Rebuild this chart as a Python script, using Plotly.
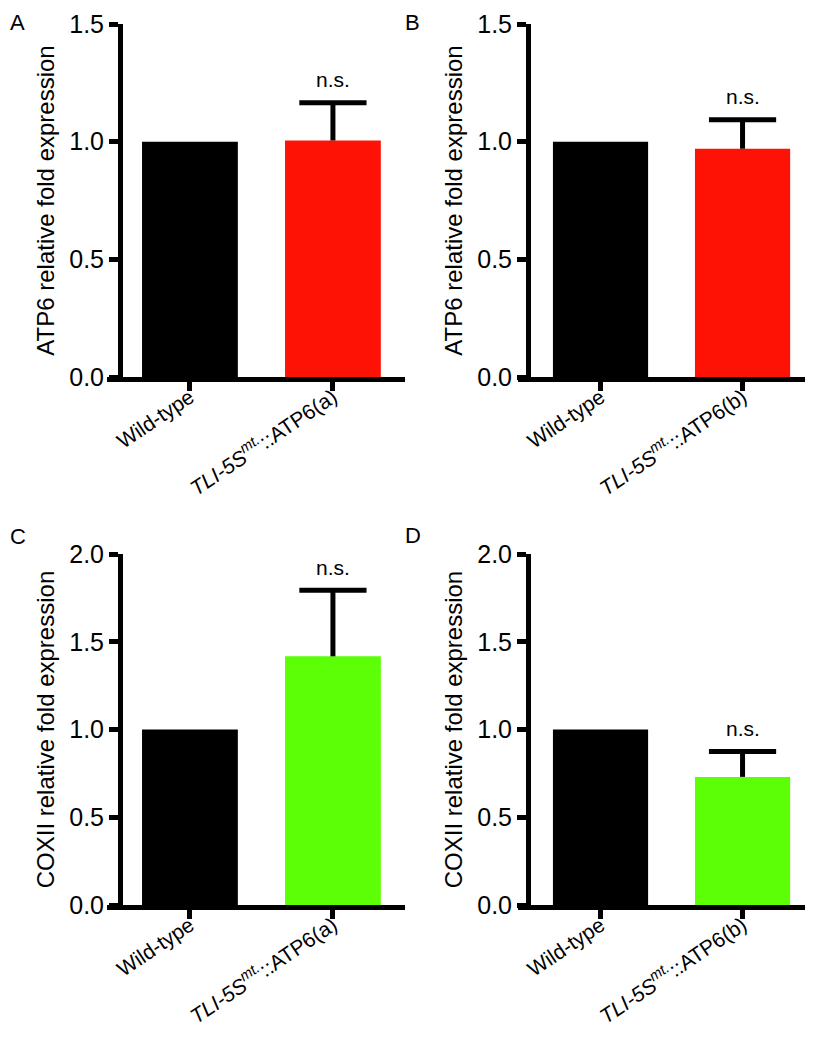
import plotly.graph_objects as go

# ---- data ----
categories_a = ["Wild-type", "<i>TLI-5S<sup>mt.</sup></i>::ATP6(a)"]
categories_b = ["Wild-type", "<i>TLI-5S<sup>mt.</sup></i>::ATP6(b)"]

atp6_a_values = [1.0, 1.005]
atp6_a_errors = [0.0, 0.16]
atp6_b_values = [1.0, 0.97]
atp6_b_errors = [0.0, 0.123]
coxii_a_values = [1.0, 1.417]
coxii_a_errors = [0.0, 0.377]
coxii_b_values = [1.0, 0.73]
coxii_b_errors = [0.0, 0.144]

sig_labels = ["n.s.", "n.s.", "n.s.", "n.s."]
panel_letters = ["A", "B", "C", "D"]
ytitles = ["ATP6 relative fold expression", "ATP6 relative fold expression",
           "COXII relative fold expression", "COXII relative fold expression"]
ymax = [1.5, 1.5, 2.0, 2.0]

RED = "#ff1206"
GREEN = "#5cff06"
BLACK = "#000000"
FONT = "Liberation Sans, Arial, Helvetica, sans-serif"

# page body has an 8px margin; figure sized to fit the rest of the window
OFF = 8
W, H = 813 - OFF, 1050 - OFF

def px(x):
    return (x - OFF) / W

def py(y):
    return 1 - (y - OFF) / H

panels = [
    dict(cats=categories_a, vals=atp6_a_values, errs=atp6_a_errors, color=RED,
         xdom=[px(107), px(405)], ypos=px(120), ydom=[py(377), py(24)],
         xr=[-0.58, 1.504], letter_xy=(8, 8), letter_anchor="top"),
    dict(cats=categories_b, vals=atp6_b_values, errs=atp6_b_errors, color=RED,
         xdom=[px(518), 1.0], ypos=px(528), ydom=[py(377), py(24)],
         xr=[-0.581, 1.496], letter_xy=(403, 8), letter_anchor="top"),
    dict(cats=categories_a, vals=coxii_a_values, errs=coxii_a_errors, color=GREEN,
         xdom=[px(107), px(405)], ypos=px(120), ydom=[py(905), py(554)],
         xr=[-0.58, 1.504], letter_xy=(8, 536), letter_anchor="middle"),
    dict(cats=categories_b, vals=coxii_b_values, errs=coxii_b_errors, color=GREEN,
         xdom=[px(518), 1.0], ypos=px(528), ydom=[py(905), py(554)],
         xr=[-0.581, 1.496], letter_xy=(403, 535), letter_anchor="middle"),
]

fig = go.Figure()
annotations = []
layout = {}

for i, p in enumerate(panels):
    n = i + 1
    xa = "x" if n == 1 else f"x{n}"
    ya = "y" if n == 1 else f"y{n}"
    colors = [BLACK, p["color"]]
    fig.add_trace(go.Bar(
        x=[0, 1], y=p["vals"], xaxis=xa, yaxis=ya,
        width=0.67, marker=dict(color=colors, line=dict(width=0)),
        showlegend=False,
    ))
    # upward-only error bars: cap marker at the top, stem drawn down to bar top
    for j in range(2):
        err = p["errs"][j]
        if err <= 0:
            continue
        fig.add_trace(go.Scatter(
            x=[j], y=[p["vals"][j] + err], xaxis=xa, yaxis=ya, mode="markers",
            marker=dict(symbol="line-ew", size=48, color=BLACK,
                        line=dict(width=5, color=BLACK)),
            error_y=dict(type="data", symmetric=False, array=[0], arrayminus=[err],
                         color=BLACK, thickness=5, width=0),
            showlegend=False, hoverinfo="skip",
        ))
    # significance label
    annotations.append(dict(
        x=1, y=p["vals"][1] + p["errs"][1], xref=xa, yref=ya,
        text=sig_labels[i], showarrow=False, yshift=23, yanchor="middle",
        font=dict(size=21, color=BLACK, family=FONT)))
    # panel letter
    lx, ly = p["letter_xy"]
    annotations.append(dict(
        x=px(lx), y=py(ly), xref="paper", yref="paper", text=panel_letters[i],
        showarrow=False, xanchor="left", yanchor=p["letter_anchor"],
        font=dict(size=22, color=BLACK, family=FONT)))

    xkey = "xaxis" if n == 1 else f"xaxis{n}"
    ykey = "yaxis" if n == 1 else f"yaxis{n}"
    layout[xkey] = dict(
        domain=p["xdom"], anchor=ya, range=p["xr"], automargin=False,
        tickmode="array", tickvals=[0, 1], ticktext=p["cats"],
        tickangle=-34, ticks="outside", ticklen=9, tickwidth=5, tickcolor=BLACK,
        ticklabelstandoff=-14,
        showline=True, linewidth=5, linecolor=BLACK, showgrid=False, zeroline=False,
        tickfont=dict(size=21, color=BLACK, family=FONT), fixedrange=True,
    )
    layout[ykey] = dict(
        domain=p["ydom"], anchor="free", position=p["ypos"], range=[0, ymax[i]],
        automargin=False,
        tickmode="linear", tick0=0, dtick=0.5, tickformat=".1f",
        ticks="outside", ticklen=9, tickwidth=5, tickcolor=BLACK,
        showline=True, linewidth=5, linecolor=BLACK, showgrid=False, zeroline=False,
        tickfont=dict(size=25, color=BLACK, family=FONT),
        title=dict(text=ytitles[i], font=dict(size=24, color=BLACK, family=FONT), standoff=6),
        fixedrange=True,
    )

fig.update_layout(
    width=W, height=H, margin=dict(l=0, r=0, t=0, b=0, autoexpand=False),
    paper_bgcolor="white", plot_bgcolor="white",
    annotations=annotations, font=dict(family=FONT, color=BLACK),
    **layout,
)

fig.write_html("out.html")
